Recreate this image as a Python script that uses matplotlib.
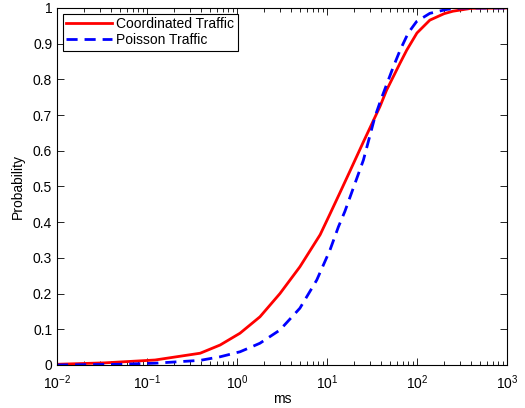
import matplotlib
matplotlib.use('Agg')
import matplotlib.pyplot as plt
from matplotlib.ticker import LogLocator, NullFormatter

plt.rcParams['font.family'] = ['Liberation Sans', 'DejaVu Sans']

# latency (ms) vs cumulative probability
coord_ms = [0.01, 0.034, 0.123, 0.39, 0.65, 1.08, 1.8, 3.0, 5.0, 8.4, 10.8,
            13.9, 18, 25.4, 38.8, 46, 64.7, 77, 100, 139, 200, 251, 400, 1000]
coord_p = [0.002, 0.006, 0.014, 0.033, 0.056, 0.089, 0.135, 0.20, 0.275,
           0.365, 0.423, 0.482, 0.543, 0.625, 0.724, 0.77, 0.845, 0.882, 0.93,
           0.966, 0.984, 0.991, 0.999, 1.0]

poisson_ms = [0.01, 0.05, 0.123, 0.39, 0.65, 1.08, 1.46, 1.8, 3.0, 5.0, 7.7,
              10.8, 13.4, 15.8, 25.4, 34.1, 40, 54.6, 65, 80, 99, 139, 214,
              300, 1000]
poisson_p = [0.0, 0.002, 0.005, 0.013, 0.023, 0.037, 0.051, 0.061, 0.098,
             0.159, 0.238, 0.322, 0.387, 0.43, 0.574, 0.695, 0.745, 0.835,
             0.882, 0.93, 0.962, 0.985, 0.996, 1.0, 1.0]

fig = plt.figure(figsize=(5.25, 4.08), dpi=100)
ax = fig.add_axes([0.1086, 0.1054, 0.857, 0.875])

ax.semilogx(coord_ms, coord_p, color='red', lw=2, label='Coordinated Traffic')
ax.semilogx(poisson_ms, poisson_p, color='blue', lw=2, ls=(0, (4, 2.5)),
            label='Poisson Traffic')

ax.set_xlim(1e-2, 1e3)
ax.set_ylim(0, 1)
ax.set_yticks([i / 10 for i in range(11)])
ax.set_yticklabels(['0'] + ['0.%d' % i for i in range(1, 10)] + ['1'])
ax.xaxis.set_minor_locator(LogLocator(base=10, subs=range(2, 10), numticks=20))
ax.xaxis.set_minor_formatter(NullFormatter())

ax.tick_params(which='both', direction='in', top=True, right=True,
               labelsize=10, width=0.6)
ax.tick_params(which='major', length=5)
ax.tick_params(which='minor', length=3)
ax.tick_params(axis='x', pad=6)
for s in ax.spines.values():
    s.set_linewidth(0.8)

ax.set_xlabel('ms', fontsize=10, labelpad=0)
ax.set_ylabel('Probability', fontsize=10, labelpad=6)

leg = ax.legend(loc='upper left', fontsize=10, fancybox=False, framealpha=1,
                edgecolor='black', handlelength=3.3, borderpad=0.25,
                labelspacing=0.15, handletextpad=0.3, borderaxespad=0.4)
leg.get_frame().set_linewidth(0.8)

fig.savefig('out.png', dpi=100)
